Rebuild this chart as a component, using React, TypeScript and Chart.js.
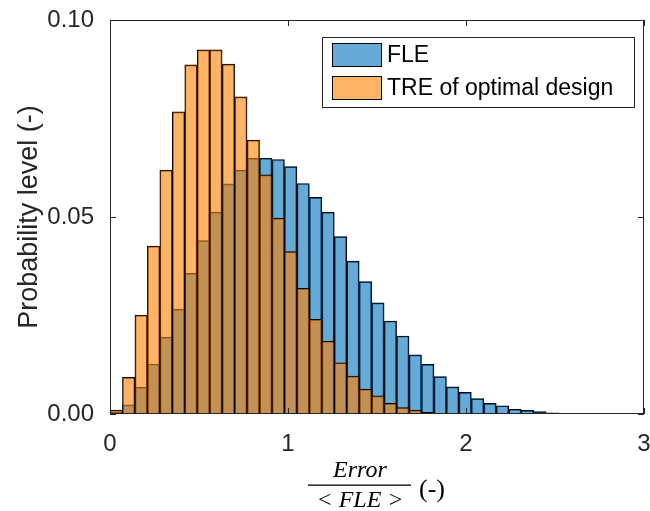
import React, { useEffect, useRef } from "react";
import { Chart, registerables } from "chart.js";
Chart.register(...registerables);

const BIN_WIDTH = 0.07;
const FLE = [
  0.0005, 0.0023, 0.0068, 0.0127, 0.0195, 0.0266, 0.0357, 0.044, 0.0512, 0.0584,
  0.0619, 0.0649, 0.0649, 0.0646, 0.0628, 0.0585, 0.055, 0.0512, 0.045, 0.0388,
  0.0336, 0.0282, 0.0236, 0.0198, 0.015, 0.0126, 0.0095, 0.0069, 0.0055, 0.0039,
  0.0027, 0.0021, 0.0012, 0.0009, 0.0006, 0.0003, 0.0002, 0.0001, 0.0001, 0.00005,
  0.00004, 0.00003, 0.00002,
];
const TRE = [
  0.001, 0.0093, 0.0251, 0.0426, 0.0619, 0.0767, 0.0886, 0.0924, 0.0924, 0.0888,
  0.0805, 0.0695, 0.0607, 0.0497, 0.0412, 0.0319, 0.024, 0.0185, 0.013, 0.0096,
  0.0063, 0.0046, 0.0027, 0.0016, 0.001, 0.0004, 0.0002, 0.0001,
];
const X_TICKS = [0, 1, 2, 3];
const Y_TICKS = [0, 0.05, 0.1];
const SERIES_LABELS = ["FLE", "TRE of optimal design"];
const Y_TITLE = "Probability level (-)";
const X_TITLE_NUM = "Error";
const X_TITLE_DEN = "< FLE >";
const X_TITLE_UNIT = "(-)";

const BLUE = "rgba(0,114,189,0.6)";
const ORANGE = "rgba(255,128,0,0.6)";
const AXIS = "#262626";
const SANS = "'Liberation Sans', Arial, Helvetica, sans-serif";
const SERIF = "'Liberation Serif', 'DejaVu Serif', serif";

const toPoints = (vals: number[]) =>
  vals.map((v, i) => ({ x: (i + 0.5) * BIN_WIDTH, y: v }));

const decorPlugin = {
  id: "decor",
  afterDraw(chart: any) {
    const { ctx, chartArea } = chart;
    const { left, right, top, bottom } = chartArea;
    const xs = chart.scales.x;
    const ys = chart.scales.y;
    ctx.save();
    // box
    ctx.strokeStyle = AXIS;
    ctx.lineWidth = 1;
    ctx.strokeRect(left + 0.5, top + 0.5, right - left - 1, bottom - top - 1);
    // inward ticks
    const tl = 6;
    ctx.beginPath();
    X_TICKS.forEach((v) => {
      const px = Math.round(xs.getPixelForValue(v)) + 0.5;
      ctx.moveTo(px, bottom);
      ctx.lineTo(px, bottom - tl);
      ctx.moveTo(px, top);
      ctx.lineTo(px, top + tl);
    });
    Y_TICKS.forEach((v) => {
      const py = Math.round(ys.getPixelForValue(v)) + 0.5;
      ctx.moveTo(left, py);
      ctx.lineTo(left + tl, py);
      ctx.moveTo(right, py);
      ctx.lineTo(right - tl, py);
    });
    ctx.stroke();

    // legend
    const lx = 322, ly = 37, lw = 312, lh = 70;
    ctx.fillStyle = "#fff";
    ctx.fillRect(lx, ly, lw, lh);
    ctx.strokeStyle = AXIS;
    ctx.strokeRect(lx + 0.5, ly + 0.5, lw, lh);
    const colors = [BLUE, ORANGE];
    SERIES_LABELS.forEach((lab, i) => {
      const cy = ly + 18 + i * 33;
      ctx.fillStyle = "#fff";
      ctx.fillRect(332, cy - 12, 50, 24);
      ctx.fillStyle = colors[i];
      ctx.fillRect(332, cy - 12, 50, 24);
      ctx.strokeStyle = "#000";
      ctx.strokeRect(332.5, cy - 11.5, 49, 23);
      ctx.fillStyle = "#000";
      ctx.font = `23px ${SANS}`;
      ctx.textAlign = "left";
      ctx.textBaseline = "middle";
      ctx.fillText(lab, 387, cy + 1);
    });

    // y title
    ctx.save();
    ctx.translate(30, (top + bottom) / 2);
    ctx.rotate(-Math.PI / 2);
    ctx.fillStyle = AXIS;
    ctx.font = `27px ${SANS}`;
    ctx.textAlign = "center";
    ctx.textBaseline = "middle";
    ctx.fillText(Y_TITLE, 0, 0);
    ctx.restore();

    // x title (fraction)
    const cx = 360;
    ctx.fillStyle = "#000";
    ctx.font = `italic 24px ${SERIF}`;
    ctx.textAlign = "center";
    ctx.textBaseline = "alphabetic";
    ctx.fillText(X_TITLE_NUM, cx, 477);
    ctx.fillText(X_TITLE_DEN, cx, 507);
    ctx.fillRect(308, 484.5, 103, 1.3);
    ctx.font = `26px ${SERIF}`;
    ctx.textAlign = "left";
    ctx.fillText(X_TITLE_UNIT, 419, 497);
    ctx.restore();
  },
};

export default function App() {
  const ref = useRef<HTMLCanvasElement | null>(null);
  useEffect(() => {
    if (!ref.current) return;
    const chart = new Chart(ref.current, {
      type: "bar",
      data: {
        datasets: [
          {
            label: SERIES_LABELS[0],
            data: toPoints(FLE),
            backgroundColor: BLUE,
            borderColor: "#000",
            borderWidth: 1,
            barPercentage: 1,
            categoryPercentage: 1,
            grouped: false,
            order: 1,
          } as any,
          {
            label: SERIES_LABELS[1],
            data: toPoints(TRE),
            backgroundColor: ORANGE,
            borderColor: "#000",
            borderWidth: 1,
            barPercentage: 1,
            categoryPercentage: 1,
            grouped: false,
            order: 0,
          } as any,
        ],
      },
      options: {
        animation: false,
        responsive: false,
        layout: { padding: { top: 20, right: 6, left: 0, bottom: 0 } },
        plugins: { legend: { display: false }, tooltip: { enabled: false } },
        scales: {
          x: {
            type: "linear",
            min: 0,
            max: 3,
            offset: false,
            grid: { display: false },
            border: { display: false },
            afterBuildTicks: (s: any) => {
              s.ticks = X_TICKS.map((v) => ({ value: v }));
            },
            afterFit: (s: any) => {
              s.height = 97;
              s.paddingLeft = 0;
              s.paddingRight = 0;
            },
            ticks: {
              color: AXIS,
              font: { size: 24, family: SANS },
              padding: 8,
              maxRotation: 0,
              callback: (v: any) => String(v),
            },
          },
          y: {
            min: 0,
            max: 0.1,
            grid: { display: false },
            border: { display: false },
            afterBuildTicks: (s: any) => {
              s.ticks = Y_TICKS.map((v) => ({ value: v }));
            },
            afterFit: (s: any) => {
              s.width = 110;
              s.paddingTop = 0;
              s.paddingBottom = 0;
            },
            ticks: {
              color: AXIS,
              font: { size: 24, family: SANS },
              padding: 8,
              callback: (v: any) => Number(v).toFixed(2),
            },
          },
        },
      },
      plugins: [decorPlugin],
    });
    return () => chart.destroy();
  }, []);
  return (
    <div style={{ position: "fixed", left: 0, top: 0, width: 650, height: 511, background: "#fff" }}>
      <canvas ref={ref} width={650} height={511} style={{ width: 650, height: 511 }} />
    </div>
  );
}
